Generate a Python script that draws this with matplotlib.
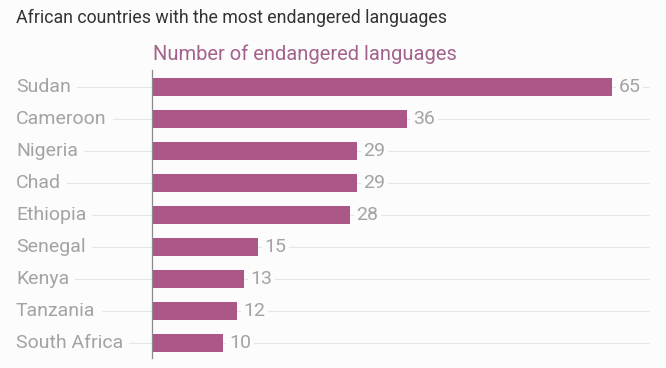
import matplotlib
matplotlib.use("Agg")
import matplotlib.pyplot as plt

countries = ["Sudan", "Cameroon", "Nigeria", "Chad", "Ethiopia",
             "Senegal", "Kenya", "Tanzania", "South Africa"]
counts = [65, 36, 29, 29, 28, 15, 13, 12, 10]

bar_color = "#ab5787"
text_grey = "#a3a3a3"
bg = "#fcfcfc"

plt.rcParams["font.family"] = ["Roboto", "DejaVu Sans"]

W, H = 666, 368
fig = plt.figure(figsize=(W / 100, H / 100), dpi=100, facecolor=bg)
ax = fig.add_axes([152 / W, 1 - 358 / H, (650 - 152) / W, (358 - 70) / H])
ax.set_facecolor("none")

ypos = list(range(len(countries)))
ax.barh(ypos, counts, height=0.56, color=bar_color, zorder=3)
ax.set_xlim(0, 498 / 7.077)
ax.set_ylim(8.47, -0.53)
ax.set_xticks([])
ax.set_yticks([])
for s in ["top", "right", "bottom"]:
    ax.spines[s].set_visible(False)
ax.spines["left"].set_color("#8a8a8a")
ax.spines["left"].set_linewidth(0.9)
ax.spines["left"].set_zorder(4)

# gridlines behind everything
for y in ypos:
    ax.axhline(y, color="#e6e6e6", lw=0.8, zorder=0, xmax=1)

for y, v in zip(ypos, counts):
    ax.text(v + 0.9, y, str(v), va="center", ha="left", fontsize=14,
            color=text_grey, zorder=4,
            bbox=dict(facecolor=bg, edgecolor="none", pad=2))

# country labels on the left, in figure coords
fig.canvas.draw()
renderer = fig.canvas.get_renderer()
for y, name in zip(ypos, countries):
    disp_y = ax.transData.transform((0, y))[1]
    fy = disp_y / H
    t = fig.text(16 / W, fy, name, va="center", ha="left", fontsize=14,
                 color=text_grey)
    bb = t.get_window_extent(renderer)
    x0 = (bb.x1 + 6) / W
    fig.add_artist(plt.Line2D([x0, 152 / W], [fy, fy], color="#e6e6e6",
                              lw=0.8, zorder=0))

fig.text(16 / W, 1 - 18 / H, "African countries with the most endangered languages",
         va="center", ha="left", fontsize=12.8, color="#333333")
fig.text(153 / W, 1 - 54 / H, "Number of endangered languages",
         va="center", ha="left", fontsize=14.5, color="#a3628c")

fig.savefig("out.png", dpi=100, facecolor=bg)
